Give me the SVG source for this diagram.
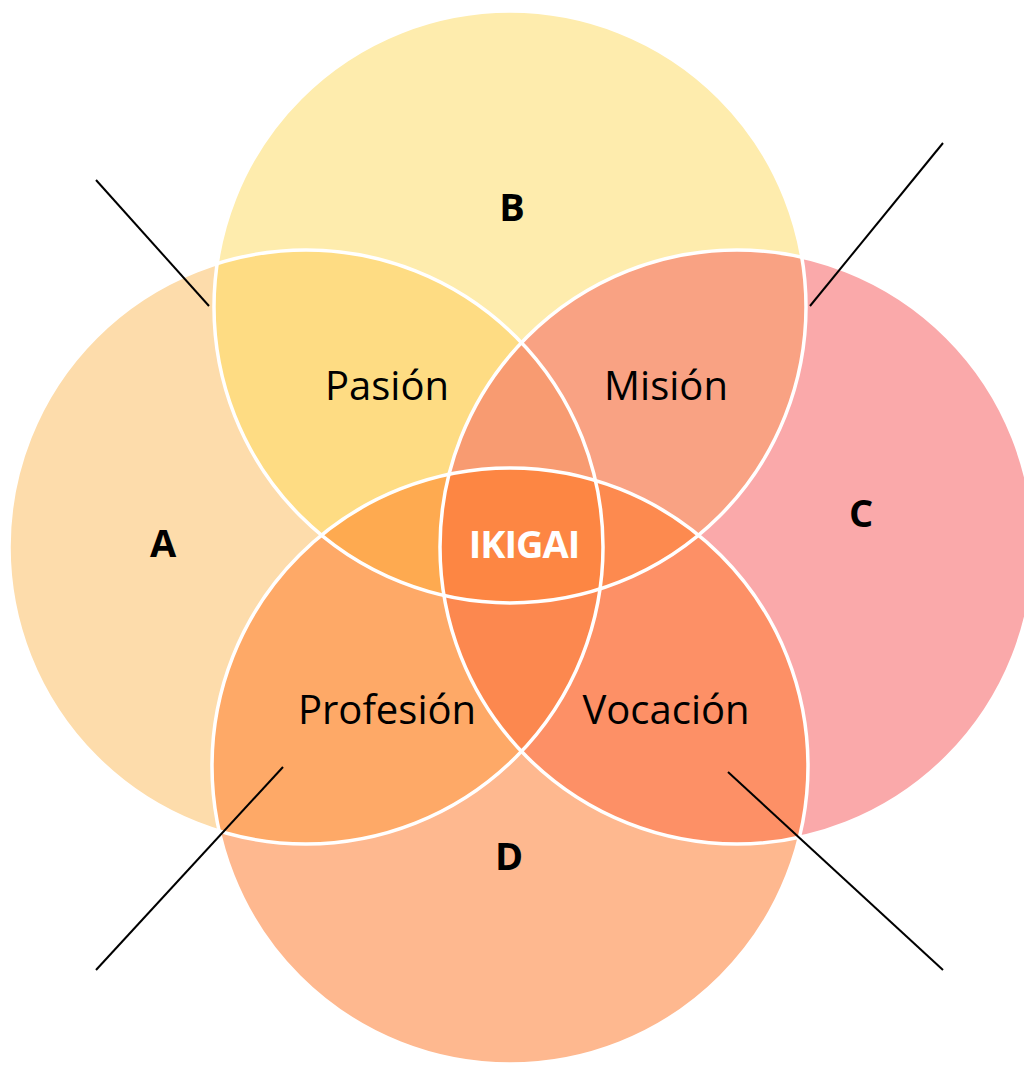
<svg xmlns="http://www.w3.org/2000/svg" xmlns:xlink="http://www.w3.org/1999/xlink" width="1024" height="1065" viewBox="0 0 1024 1065">
<style>
.lbl{font-family:"Open Sans","Noto Sans",sans-serif;font-size:40px;fill:#000;text-anchor:middle}
.big{font-family:"Open Sans","Noto Sans",sans-serif;font-size:38px;font-weight:bold;fill:#000;text-anchor:middle}
.iki{font-family:"Open Sans","Noto Sans",sans-serif;font-size:38px;font-weight:bold;fill:#fff;text-anchor:middle;letter-spacing:-1px}
.ring{fill:none;stroke:#fff;stroke-width:3.5}
.ptr{stroke:#000;stroke-width:2;fill:none}
</style>
<defs>
<circle id="cA" cx="306" cy="547" r="297"/>
<circle id="cB" cx="510" cy="307" r="296"/>
<circle id="cC" cx="737" cy="547" r="297"/>
<circle id="cD" cx="510" cy="766" r="298"/>
<clipPath id="clA"><use xlink:href="#cA"/></clipPath>
<clipPath id="clB"><use xlink:href="#cB"/></clipPath>
<clipPath id="clC"><use xlink:href="#cC"/></clipPath>
<clipPath id="clD"><use xlink:href="#cD"/></clipPath>
</defs>
<rect width="1024" height="1065" fill="#fff"/>
<g id="circleA"><use xlink:href="#cA" fill="#FDDCAB"/></g>
<g id="circleB"><use xlink:href="#cB" fill="#FEECAD"/></g>
<g id="circleC"><use xlink:href="#cC" fill="#FAA9AA"/></g>
<g id="circleD"><use xlink:href="#cD" fill="#FEB88F"/></g>
<g id="pasion"><g clip-path="url(#clA)"><use xlink:href="#cB" fill="#FEDC83"/></g></g>
<g id="mision"><g clip-path="url(#clC)"><use xlink:href="#cB" fill="#F9A283"/></g></g>
<g id="profesion"><g clip-path="url(#clA)"><use xlink:href="#cD" fill="#FEA967"/></g></g>
<g id="vocacion"><g clip-path="url(#clC)"><use xlink:href="#cD" fill="#FD9066"/></g></g>
<g id="abc"><g clip-path="url(#clA)"><g clip-path="url(#clB)"><use xlink:href="#cC" fill="#F89B71"/></g></g></g>
<g id="abd"><g clip-path="url(#clA)"><g clip-path="url(#clB)"><use xlink:href="#cD" fill="#FEAA50"/></g></g></g>
<g id="bcd"><g clip-path="url(#clC)"><g clip-path="url(#clB)"><use xlink:href="#cD" fill="#FD8A4F"/></g></g></g>
<g id="acd"><g clip-path="url(#clA)"><g clip-path="url(#clC)"><use xlink:href="#cD" fill="#FC884F"/></g></g></g>
<g id="ikigai"><g clip-path="url(#clA)"><g clip-path="url(#clC)"><g clip-path="url(#clB)"><use xlink:href="#cD" fill="#FD8643"/></g></g></g></g>
<g id="outlines">
<use xlink:href="#cA" class="ring"/>
<use xlink:href="#cB" class="ring"/>
<use xlink:href="#cC" class="ring"/>
<use xlink:href="#cD" class="ring"/>
</g>
<g id="connectors">
<line class="ptr" x1="96" y1="180" x2="209" y2="306"/>
<line class="ptr" x1="943" y1="143" x2="810" y2="306"/>
<line class="ptr" x1="283" y1="767" x2="96" y2="970"/>
<line class="ptr" x1="728" y1="772" x2="943" y2="970"/>
</g>
<g id="labels">
<text class="big" x="163" y="557">A</text>
<text class="big" x="512" y="221">B</text>
<text class="big" x="861" y="527">C</text>
<text class="big" x="509" y="870">D</text>
<text class="lbl" x="387" y="400">Pasión</text>
<text class="lbl" x="666" y="400">Misión</text>
<text class="lbl" x="387" y="724">Profesión</text>
<text class="lbl" x="666" y="724">Vocación</text>
<text class="iki" x="524" y="558">IKIGAI</text>
</g>
</svg>
